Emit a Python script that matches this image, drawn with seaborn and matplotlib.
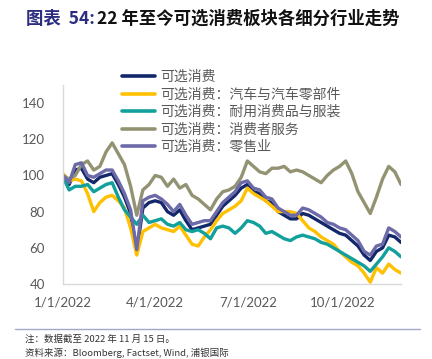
import numpy as np
import pandas as pd
import matplotlib
matplotlib.use('Agg')
import matplotlib.pyplot as plt
import seaborn as sns

# sampled every 6 days from 2022-01-01
dates = pd.date_range('2022-01-01', periods=56, freq='6D')

series_names = ['可选消费', '可选消费：汽车与汽车零部件', '可选消费：耐用消费品与服装',
                '可选消费：消费者服务', '可选消费：零售业']

consumer = [100, 95, 103, 104, 98, 96, 99, 100, 101, 95, 88, 79, 58, 82, 85, 86, 85, 80, 78, 81,
            75, 70, 71, 72, 73, 78, 83, 86, 89, 93, 95, 91, 90, 86, 85, 80, 78, 76, 76, 79,
            78, 76, 74, 72, 70, 68, 67, 64, 61, 56, 53, 58, 60, 67, 66, 63]
autos = [101, 97, 98, 97, 90, 80, 85, 88, 89, 86, 82, 71, 56, 69, 71, 73, 71, 70, 69, 72,
         67, 62, 61, 66, 70, 75, 79, 81, 83, 86, 93, 90, 88, 86, 83, 80, 80, 80, 79, 75,
         71, 69, 66, 64, 62, 58, 55, 52, 50, 46, 41, 49, 46, 51, 48, 46]
durables = [99, 92, 94, 94, 95, 91, 93, 95, 96, 88, 81, 77, 73, 78, 74, 75, 76, 73, 72, 74,
            70, 69, 70, 68, 65, 71, 72, 71, 68, 71, 75, 74, 72, 68, 69, 67, 65, 64, 66, 67,
            66, 65, 63, 62, 60, 58, 56, 54, 52, 50, 47, 51, 55, 60, 58, 55]
services = [100, 98, 100, 106, 108, 103, 105, 113, 118, 112, 106, 94, 78, 92, 95, 100, 99, 94, 98, 93,
            95, 89, 87, 84, 81, 87, 91, 92, 94, 99, 108, 105, 102, 101, 104, 104, 105, 102, 103, 102,
            100, 98, 96, 100, 103, 105, 108, 101, 91, 85, 79, 88, 98, 105, 102, 95]
retail = [100, 96, 106, 107, 100, 99, 101, 103, 103, 97, 90, 81, 59, 86, 88, 89, 87, 84, 80, 84,
          78, 73, 74, 75, 75, 80, 85, 88, 91, 96, 97, 93, 92, 88, 87, 82, 80, 78, 78, 82,
          81, 79, 77, 74, 73, 71, 70, 67, 64, 58, 56, 61, 62, 71, 69, 66]

y_ticks = [40, 60, 80, 100, 120, 140]
x_tick_dates = ['2022-01-01', '2022-04-01', '2022-07-01', '2022-10-01']
x_tick_labels = ['1/1/2022', '4/1/2022', '7/1/2022', '10/1/2022']

colors = ['#13286b', '#ffc000', '#12a09c', '#939373', '#6c6aa8']

df = pd.DataFrame({'date': np.tile(dates, 5),
                   'value': consumer + autos + durables + services + retail,
                   'series': np.repeat(series_names, len(dates))})

sns.set_style('white')
plt.rcParams['font.family'] = ['Noto Sans CJK SC', 'DejaVu Sans']

fig = plt.figure(figsize=(4.32, 3.59), dpi=100)
ax = fig.add_axes([63 / 432, 75 / 359, 338 / 432, 199 / 359])

sns.lineplot(data=df, x='date', y='value', hue='series', hue_order=series_names,
             palette=colors, linewidth=2.4, ax=ax, legend=True)

ax.set_xlim(pd.Timestamp('2022-01-01'), pd.Timestamp('2022-11-27'))
ax.set_ylim(40, 150)
ax.set_yticks(y_ticks)
ax.set_yticklabels([str(v) for v in y_ticks], fontsize=9.5, color='#595959', family='Lato')
ax.set_xticks(pd.to_datetime(x_tick_dates))
ax.set_xticklabels(x_tick_labels, fontsize=9.5, color='#595959', family='Lato')
ax.tick_params(axis='y', length=0, pad=13)
ax.tick_params(axis='x', length=0, pad=9)
ax.set_xlabel('')
ax.set_ylabel('')
for s in ['top', 'right']:
    ax.spines[s].set_visible(False)
for s in ['left', 'bottom']:
    ax.spines[s].set_color('#d9d9d9')
    ax.spines[s].set_linewidth(1)

handles, labels = ax.get_legend_handles_labels()
leg = ax.legend(handles, labels, loc='upper left', bbox_to_anchor=(122 / 432, (359 - 70) / 359),
                bbox_transform=fig.transFigure, frameon=False,
                prop={'size': 10, 'weight': 'light'},
                handlelength=2.4, handletextpad=0.36, labelspacing=0.25,
                borderpad=0, borderaxespad=0)
for t in leg.get_texts():
    t.set_color('#595959')
for h in leg.get_lines():
    h.set_linewidth(2.6)

# title
fig.text(26 / 432, 1 - 24 / 359, '图表  54:', fontsize=12.5, fontweight='bold',
         color='#2b2b80', va='baseline')
fig.text(97 / 432, 1 - 24 / 359, '22 年至今可选消费板块各细分行业走势', fontsize=12.5,
         fontweight='bold', color='#111111', va='baseline')

# bottom separator and notes
fig.add_artist(plt.Line2D([15 / 432, 420 / 432], [1 - 329 / 359, 1 - 329 / 359],
                          transform=fig.transFigure, color='#a6a6cc', linewidth=1))
fig.text(25 / 432, 1 - 342 / 359, '注：数据截至 2022 年 11 月 15 日。', fontsize=6.8,
         color='#333333', va='baseline')
fig.text(25 / 432, 1 - 356.5 / 359, '资料来源：Bloomberg, Factset, Wind, 浦银国际', fontsize=6.8,
         color='#333333', va='baseline')

fig.savefig('out.png', dpi=100)
